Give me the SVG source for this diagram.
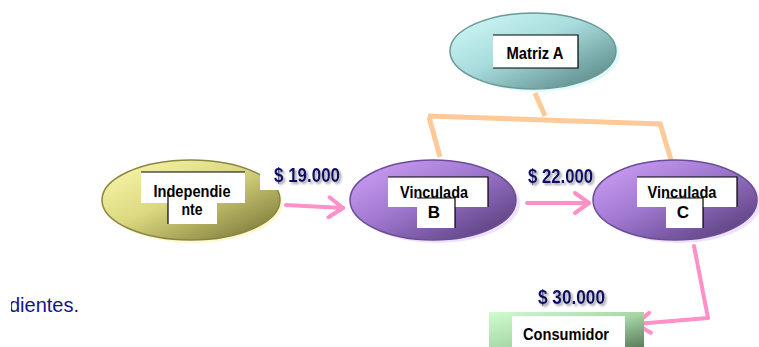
<svg xmlns="http://www.w3.org/2000/svg" width="759" height="347" viewBox="0 0 759 347">
<defs>
<linearGradient id="gTeal" x1="0" y1="0" x2="1" y2="1"><stop offset="0" stop-color="#d4fafa"/><stop offset="0.45" stop-color="#a8dcdc"/><stop offset="1" stop-color="#4e7c7a"/></linearGradient>
<linearGradient id="gOlive" x1="0" y1="0" x2="1" y2="1"><stop offset="0" stop-color="#fcfcb0"/><stop offset="0.45" stop-color="#dcd880"/><stop offset="1" stop-color="#6e6c30"/></linearGradient>
<linearGradient id="gPurple" x1="0" y1="0" x2="1" y2="1"><stop offset="0" stop-color="#d4a4fa"/><stop offset="0.45" stop-color="#a078d0"/><stop offset="1" stop-color="#4e3670"/></linearGradient>
<linearGradient id="gGreen" x1="0" y1="0" x2="1" y2="1"><stop offset="0" stop-color="#d0fcd0"/><stop offset="0.5" stop-color="#a8d8a8"/><stop offset="1" stop-color="#507050"/></linearGradient>
<marker id="chev" viewBox="0 0 20 24" refX="17" refY="12" markerWidth="20" markerHeight="24" markerUnits="userSpaceOnUse" orient="auto">
<path d="M3,2 L17,12 L3,22" fill="none" stroke="#ff90c8" stroke-width="4" stroke-linecap="round" stroke-linejoin="round"/>
</marker>
<filter id="shadow" x="-10%" y="-20%" width="130%" height="160%">
<feDropShadow dx="2" dy="2" stdDeviation="1.2" flood-color="#8a8a96" flood-opacity="0.8"/>
</filter>
<clipPath id="clipL"><rect x="11" y="280" width="120" height="40"/></clipPath>
</defs>
<style>
.lbl{font-family:"Liberation Sans",Arial,sans-serif;font-weight:bold;font-size:17px;fill:#000;text-anchor:middle}
.amt{font-family:"Liberation Sans",Arial,sans-serif;font-weight:bold;font-size:21px;fill:#0c0c66;filter:url(#shadow)}
.box{fill:#fff}
.edge{stroke:#000;stroke-width:1.2;fill:none}
.halo{opacity:0.55}
.conn{fill:none;stroke:#ff90c8;stroke-width:4;stroke-linecap:round}
.tie{fill:none;stroke:#ffc998;stroke-width:5;stroke-linecap:butt}
</style>

<g id="connectors">
<path class="tie" d="M535,93 L545,116"/>
<path class="tie" d="M428,116 L662,124"/>
<path class="tie" d="M429,117 L440,157"/>
<path class="tie" d="M660,123 L671,160"/>
<path class="conn" d="M286,205 L343,208" marker-end="url(#chev)"/>
<path class="conn" d="M527,203 L589,203" marker-end="url(#chev)"/>
<path class="conn" d="M694,246 L708,318 L636,324" stroke-linejoin="round" marker-end="url(#chev)"/>
</g>

<g id="matriz-a">
<ellipse class="halo" cx="537" cy="54" rx="83" ry="38" fill="#c8f8f8"/>
<ellipse cx="533" cy="51" rx="83" ry="38" fill="url(#gTeal)" stroke="#6a9896" stroke-width="1.5"/>
<rect class="box" x="493" y="35" width="85" height="33"/>
<path class="edge" d="M493,35 H578 V68 H493"/>
<text class="lbl" x="535" y="59" textLength="57" lengthAdjust="spacingAndGlyphs">Matriz A</text>
</g>

<g id="independiente">
<ellipse class="halo" cx="194" cy="203" rx="89" ry="40" fill="#f8f4b0"/>
<ellipse cx="191" cy="200" rx="89" ry="40" fill="url(#gOlive)" stroke="#8a8640" stroke-width="1.5"/>
<rect class="box" x="141" y="172" width="104" height="31"/>
<rect class="box" x="168" y="192" width="49" height="32"/>
<path class="edge" d="M141,172 H245"/>
<path class="edge" d="M168,192 V224"/>
<text class="lbl" x="192" y="197" textLength="77" lengthAdjust="spacingAndGlyphs">Independie</text>
<text class="lbl" x="192" y="215" textLength="21" lengthAdjust="spacingAndGlyphs">nte</text>
</g>

<g id="vinculada-b">
<ellipse class="halo" cx="437" cy="203" rx="83" ry="40" fill="#e0c8f8"/>
<ellipse cx="433" cy="200" rx="83" ry="40" fill="url(#gPurple)" stroke="#6c4c98" stroke-width="1.5"/>
<rect class="box" x="388" y="177" width="100" height="30"/>
<rect class="box" x="417" y="198" width="38" height="30"/>
<path class="edge" d="M388,177 H488 V207"/>
<path class="edge" d="M417,198 H455 V228"/>
<text class="lbl" x="434" y="198" textLength="68" lengthAdjust="spacingAndGlyphs">Vinculada</text>
<text class="lbl" x="434" y="218">B</text>
</g>

<g id="vinculada-c">
<ellipse class="halo" cx="679" cy="203" rx="82" ry="40" fill="#e0c8f8"/>
<ellipse cx="675" cy="200" rx="82" ry="40" fill="url(#gPurple)" stroke="#6c4c98" stroke-width="1.5"/>
<rect class="box" x="637" y="177" width="100" height="30"/>
<rect class="box" x="666" y="198" width="37" height="30"/>
<path class="edge" d="M637,177 H737 V207"/>
<path class="edge" d="M666,198 H703 V228"/>
<text class="lbl" x="682" y="198" textLength="69" lengthAdjust="spacingAndGlyphs">Vinculada</text>
<text class="lbl" x="683" y="218">C</text>
</g>

<g id="consumidor">
<rect x="489" y="312" width="155" height="40" fill="url(#gGreen)"/>
<rect class="box" x="512" y="316" width="113" height="35"/>
<text class="lbl" x="566" y="340" textLength="86" lengthAdjust="spacingAndGlyphs">Consumidor</text>
</g>

<g id="amounts">
<rect x="260" y="158" width="84" height="32" fill="#fff"/>
<text class="amt" x="274" y="182" textLength="66" lengthAdjust="spacingAndGlyphs">$ 19.000</text>
<text class="amt" x="528" y="183" textLength="65" lengthAdjust="spacingAndGlyphs">$ 22.000</text>
<text class="amt" x="538" y="304" textLength="67" lengthAdjust="spacingAndGlyphs">$ 30.000</text>
</g>

<g clip-path="url(#clipL)">
<text x="9" y="312" font-family="'Liberation Sans',Arial,sans-serif" font-size="20" fill="#14148a">dientes.</text>
</g>
</svg>
